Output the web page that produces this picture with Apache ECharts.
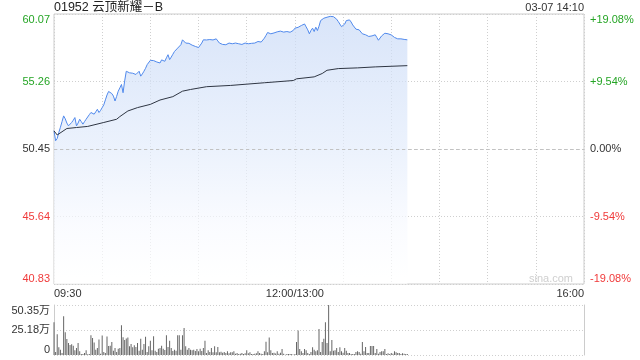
<!DOCTYPE html>
<html><head><meta charset="utf-8">
<script src="https://cdn.jsdelivr.net/npm/echarts@6/dist/echarts.min.js"></script>
<style>html,body{margin:0;padding:0;background:#fff}#c{width:640px;height:360px}</style>
</head><body><div id="c"></div>
<script>
const stockName = '01952 云顶新耀－B';
const stamp = '03-07 14:10';
const watermark = 'sina.com';
const prevClose = 50.45;
const prices = [
51.75,51.04,51.2,51.63,52.0,52.4,52.81,52.6,52.3,52.1,
52.2,52.34,52.5,52.69,52.1,52.3,52.57,52.4,52.22,52.4,
52.57,52.7,52.9,53.05,53.0,52.93,53.1,53.28,53.05,53.2,
53.4,53.6,53.95,54.3,54.55,54.69,54.4,54.22,53.87,54.2,
54.57,54.8,55.05,54.46,55.3,55.99,55.9,55.88,55.95,55.85,
55.99,55.76,55.9,55.99,55.64,55.8,55.99,56.2,56.46,56.6,
56.77,56.72,56.75,56.7,56.65,56.62,56.58,56.8,56.94,56.7,
56.95,57.17,56.82,57.0,57.2,57.4,57.5,57.64,57.75,57.88,
58.23,58.1,58.0,58.04,57.98,57.88,57.85,57.8,57.76,57.72,
57.68,57.64,58.0,58.23,58.2,58.22,58.18,58.25,58.28,58.22,
58.18,58.3,58.15,58.0,57.95,57.9,57.85,57.88,57.95,58.0,
58.0,57.95,57.88,58.0,58.07,57.95,57.81,57.9,58.04,58.0,
57.95,57.95,58.0,57.98,58.0,58.0,58.05,58.11,58.09,58.07,
58.2,58.35,58.55,58.75,58.7,58.66,58.7,58.72,58.75,58.8,
58.89,58.85,58.8,58.78,58.8,58.82,58.8,58.77,58.75,58.9,
59.06,59.1,59.12,59.17,59.25,59.3,59.36,59.15,58.94,58.66,
58.9,59.06,58.82,59.13,58.89,59.2,59.6,59.7,59.77,59.8,
59.84,59.88,59.9,59.93,59.88,59.84,59.7,59.53,59.35,59.17,
59.06,59.35,59.6,59.62,59.65,59.5,59.29,59.15,58.99,58.96,
58.94,58.8,58.66,58.62,58.59,58.53,58.47,58.5,58.51,58.55,
58.59,58.4,58.2,58.07,58.51,58.6,58.7,58.68,58.66,58.63,
58.58,58.51,58.4,58.28,58.3,58.35,58.3,58.23,58.26,58.23,58.23
];
const avgMinutes = [0,2,3,8,14,21,31,39,41,46,52,60,66,74,80,85,95,110,131,149,151,162,167,170,177,189,200,220];
const avgPrices = [51.74,51.45,51.39,51.91,51.98,52.06,52.34,52.57,52.76,53.16,53.40,53.63,53.94,54.18,54.57,54.69,54.89,54.98,55.17,55.33,55.45,55.59,55.83,56.06,56.18,56.23,56.30,56.39];
const volumes = [
33,3,21,7.7,5.3,2,39,23,16,12,
10,10.7,9.3,4.7,7,12,3.7,1,1,2,
4.7,0.7,1,20,17,12.7,5.3,7,15.7,1.3,
19.7,3,2,18.7,9,9.3,13,4.3,7,3,
6.3,7,30,18,15,16.7,17.7,8.7,11,7.7,
9.7,8,12,4.3,16.3,5.3,11,18.3,3,8.7,
14.3,4.7,19,4.3,3,6.3,7,9.3,6.3,5,
20,8,14.3,7,4,5.3,4.3,20,20,5.3,
20,27.3,8.7,5.3,7,5.3,4.7,5.3,4,6,
3.7,6.3,4,7,14.3,2,4.7,3,7,2.7,
8.7,2.7,8,2.7,3.3,2.3,3,2,3.7,1.7,
2.7,
2.7,3.7,1.3,2,1,1.3,2,1,1.7,4.7,
1.7,2.7,1,1,1.3,1.7,3.7,2,1.3,1,
3.7,13.3,2.7,17.7,4.7,2,2.3,1.5,3.7,1.3,
2.3,6,1.3,0.3,1,1,1,1,0.3,1,
13,24.7,6,3.7,2,6,4.7,2,1,3,
7.7,5.3,3.7,4.7,26.3,3,13,16.3,33,12,
50.35,
3.7,15,4.3,4.7,7,3,7.7,3.7,2.3,7,
4.3,2,2,1,1,1,3,3.7,3,1.3,
13,3.7,8,2,2,9,9,9,2,6,
1.3,3,3.7,3.7,6,1,1.7,1,2,1.3,
3.7,2.7,2,2,1,1.7,1.3,1,1
];
const priceTicks = ['40.83','45.64','50.45','55.26','60.07'];
const pctTicks = ['-19.08%','-9.54%','0.00%','+9.54%','+19.08%'];
const volTicks = ['0','25.18万','50.35万'];
const timeTicks = ['09:30','12:00/13:00','16:00'];

const FONT = 'Arial, "Liberation Sans", "Noto Sans CJK SC", sans-serif';
const span = 9.62, step = 4.81;
const pIdx = v => Math.round((Number(v) + span) / step);
const qIdx = v => Math.round((Number(v) + 19.08) / 9.54);
const tickColor = i => i < 2 ? '#f03a3a' : (i === 2 ? '#333' : '#25a525');
const timeMap = {0: timeTicks[0], 150: timeTicks[1], 330: timeTicks[2]};

const chart = echarts.init(document.getElementById('c'), null, {renderer: 'canvas'});
const dotted = {color: '#cfcfcf', type: [1, 2], width: 1};
chart.setOption({
  animation: false,
  textStyle: {fontFamily: FONT},
  grid: [
    {left: 54, right: 56, top: 14, height: 270, show: true, borderColor: '#cccccc', borderWidth: 1, backgroundColor: 'transparent'},
    {left: 54, right: 56, top: 305, height: 50}
  ],
  xAxis: [
    {gridIndex: 0, type: 'value', min: 0, max: 330, interval: 30,
     axisLine: {show: false}, axisTick: {show: false},
     splitLine: {show: true, lineStyle: dotted},
     axisLabel: {show: true, margin: 4, color: '#333', fontSize: 11, fontFamily: FONT,
       alignMinLabel: 'left', alignMaxLabel: 'right',
       formatter: v => timeMap[Math.round(Number(v))] || ''}},
    {gridIndex: 1, type: 'value', min: 0, max: 330, show: false}
  ],
  yAxis: [
    {gridIndex: 0, type: 'value', min: -span, max: span, interval: step,
     axisLine: {show: false}, axisTick: {show: false},
     splitLine: {show: true, lineStyle: dotted},
     axisLabel: {margin: 4, fontSize: 11, fontFamily: FONT,
       verticalAlignMinLabel: 'bottom', verticalAlignMaxLabel: 'top',
       formatter: v => priceTicks[pIdx(v)],
       color: v => tickColor(pIdx(v))}},
    {gridIndex: 0, type: 'value', position: 'right', min: -19.08, max: 19.08, interval: 9.54,
     axisLine: {show: false}, axisTick: {show: false}, splitLine: {show: false},
     axisLabel: {margin: 6, fontSize: 11, fontFamily: FONT,
       verticalAlignMinLabel: 'bottom', verticalAlignMaxLabel: 'top',
       formatter: v => pctTicks[qIdx(v)],
       color: v => tickColor(qIdx(v))}},
    {gridIndex: 1, type: 'value', min: 0, max: 50.35, interval: 25.175,
     axisLine: {show: true, lineStyle: {color: '#cccccc'}}, axisTick: {show: false},
     splitLine: {show: true, lineStyle: dotted},
     axisLabel: {margin: 4, fontSize: 11, fontFamily: FONT, color: '#333',
       verticalAlignMinLabel: 'bottom', verticalAlignMaxLabel: 'top',
       formatter: v => volTicks[Math.round(Number(v) / 25.175)]}},
    {gridIndex: 1, type: 'value', position: 'right', min: 0, max: 50.35,
     axisLine: {show: true, lineStyle: {color: '#cccccc'}}, axisTick: {show: false},
     axisLabel: {show: false}, splitLine: {show: false}}
  ],
  series: [
    {type: 'line', xAxisIndex: 0, yAxisIndex: 0, symbol: 'none', silent: true,
     data: prices.map((p, i) => [i, +(p - prevClose).toFixed(4)]),
     lineStyle: {color: '#5089ec', width: 1},
     areaStyle: {origin: 'start', color: new echarts.graphic.LinearGradient(0, 0, 0, 1, [
       {offset: 0, color: '#c8d9f6'}, {offset: 0.5, color: '#e3ecfb'},
       {offset: 0.78, color: '#f7f9fe'}, {offset: 1, color: '#ffffff'}])},
     markLine: {silent: true, symbol: ['none', 'none'], label: {show: false},
       lineStyle: {color: '#c2c2c2', type: [3, 3], width: 1}, data: [{yAxis: 0}]}},
    {type: 'line', xAxisIndex: 0, yAxisIndex: 0, symbol: 'none', silent: true,
     data: avgMinutes.map((m, i) => [m, +(avgPrices[i] - prevClose).toFixed(4)]),
     lineStyle: {color: '#2e3542', width: 1}},
    {type: 'bar', xAxisIndex: 1, yAxisIndex: 2, silent: true, barWidth: 1,
     data: volumes.map((v, i) => [i, v]),
     itemStyle: {color: '#666666'}}
  ],
  graphic: [
    {type: 'text', left: 54, top: 1, style: {text: stockName, fill: '#222', font: '12.5px ' + FONT}},
    {type: 'text', right: 56, top: 2, style: {text: stamp, fill: '#333', font: '11px ' + FONT}},
    {type: 'text', right: 67, top: 273, style: {text: watermark, fill: '#cfcfcf', font: '11px ' + FONT}}
  ]
});
</script>
</body></html>
